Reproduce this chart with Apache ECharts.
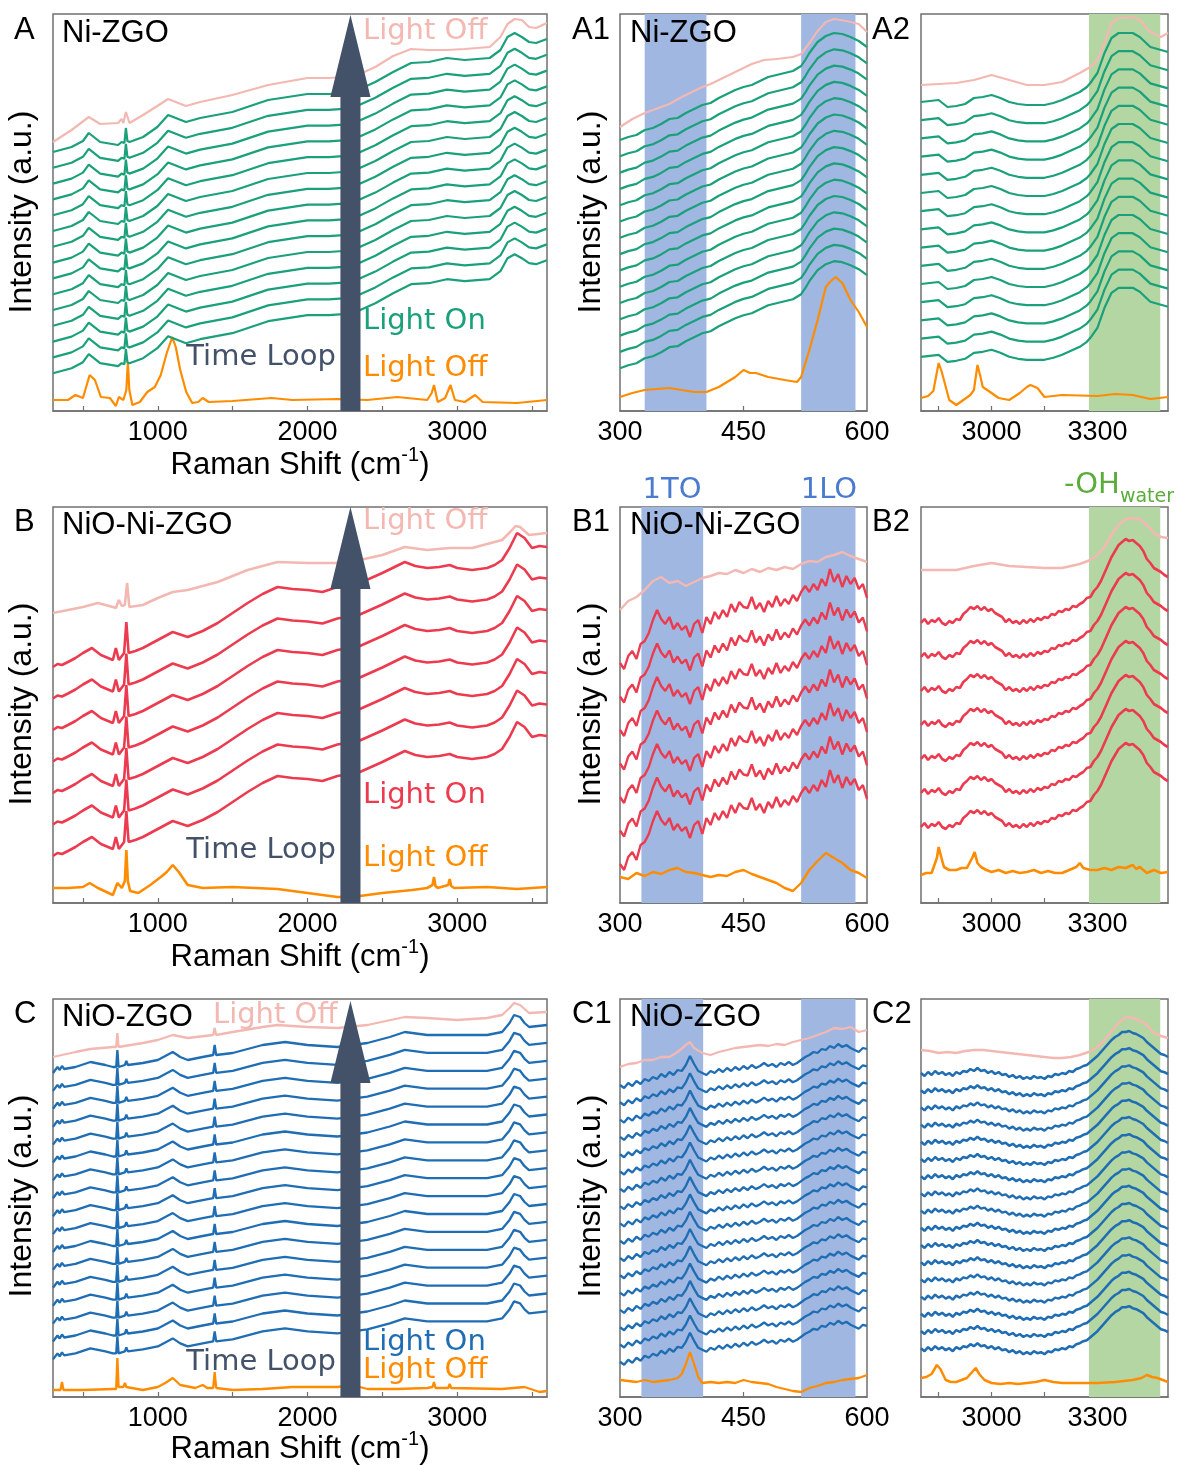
<!DOCTYPE html>
<html><head><meta charset="utf-8">
<script src="https://cdn.jsdelivr.net/npm/echarts@6/dist/echarts.min.js"></script>
<style>html,body{margin:0;padding:0;background:#fff}#c{width:1182px;height:1465px}</style>
</head><body><div id="c"></div>
<script>
// ---------- colours ----------
const GREEN = '#1aa07a', PINK = '#f3b8b2', ORANGE = '#ff8c00', RED = '#ec3b4f', BLUE = '#1f6db3';
const ARROW = '#435269', BAND_BLUE = '#9fb7e1', BAND_GREEN = '#b4d6a2';

// ---------- tick values ----------
const ticksWide = [500, 1000, 1500, 2000, 2500, 3000, 3500];
const labelsWide = [1000, 2000, 3000];
const ticksLow = [375, 450, 525];
const labelsLow = [300, 450, 600];
const ticksHigh = [2850, 3000, 3150, 3300, 3450];
const labelsHigh = [3000, 3300];

// ---------- Panel A : Ni-ZGO (full range) ----------
const pinkA = [[300,269],[424,281],[539,294],[615,287],[735,288],[758,292],[770,288],[787,299],[811,288],[902,296],[997,305],[1069,312],[1188,305],[1283,309],[1498,316],[1737,326],[2000,333],[2143,333],[2238,334],[2334,336],[2453,344],[2572,355],[2692,362],[2811,361],[2931,361],[3050,362],[3217,364],[3289,374],[3336,387],[3384,392],[3432,391],[3480,384],[3527,383],[3599,388]];
const greenA = [[300,259],[424,264],[500,270],[539,278],[615,269],[735,266],[758,269],[777,268],[787,283],[797,270],[811,269],[902,274],[997,284],[1069,296],[1188,289],[1283,293],[1498,299],[1737,311],[2000,317],[2143,317],[2238,318],[2334,321],[2453,329],[2572,339],[2692,348],[2811,349],[2931,353],[3050,351],[3217,353],[3289,361],[3336,374],[3384,378],[3432,374],[3480,369],[3527,368],[3599,372]];
const orangeA = [[300,11],[400,11],[450,16],[500,13],[545,36],[580,31],[620,14],[680,13],[720,5],[740,14],[770,11],[790,21],[800,49],[810,21],[830,6],[880,9],[930,19],[980,24],[1020,36],[1060,58],[1097,74],[1120,64],[1150,41],[1190,19],[1230,8],[1270,9],[1300,13],[1340,9],[1500,10],[1760,13],[1900,11],[2200,12],[2400,11],[2600,14],[2800,11],[2830,18],[2845,26],[2870,9],[2920,13],[2955,26],[2985,11],[3050,9],[3120,16],[3170,9],[3400,8],[3600,11]];
const offsetsA = [0,15.8,31.6,47.4,63.2,79,94.8,110.6,126.4,142.2,158,173.8,189.6,205.4,221.2];

// ---------- Panel A1 : Ni-ZGO 300-600 ----------
const pinkA1 = [[300,284],[315,292],[330,298],[340,301],[350,304],[360,307],[375,314],[390,320],[400,324],[410,327],[425,333],[440,339],[450,343],[460,347],[475,351],[490,352],[500,353],[510,354],[520,357],[530,368],[540,380],[550,389],[560,392],[575,390],[590,387],[600,379]];
const greenA1 = [[300,271],[310,274],[320,276],[330,281],[340,283],[350,287],[360,292],[370,293],[380,298],[390,302],[400,306],[410,308],[420,313],[430,317],[440,321],[450,324],[460,326],[470,330],[480,334],[490,336],[500,338],[510,340],[520,345],[525,351],[530,358],[540,369],[550,375],[560,378],[570,377],[580,374],[590,370],[600,364]];
const orangeA1 = [[300,14],[315,18],[330,21],[345,22],[360,23],[375,21],[390,19],[405,19],[420,24],[430,29],[440,34],[450,41],[458,38],[465,38],[480,34],[500,31],[515,29],[520,34],[530,61],[540,91],[550,124],[555,129],[562,134],[570,128],[580,111],[590,99],[600,84]];
const offsetsA1 = [0,16.3,32.6,48.9,65.2,81.5,97.8,114.1,130.4,146.7,163,179.3,195.6,211.9,228.2];

// ---------- Panel A2 : Ni-ZGO 2800-3500 ----------
const pinkA2 = [[2800,326],[2850,327],[2900,328],[2950,331],[3000,336],[3050,331],[3100,326],[3150,326],[3200,329],[3250,338],[3280,344],[3300,351],[3320,368],[3340,388],[3360,393],[3400,394],[3420,391],[3450,379],[3480,374],[3500,378]];
const greenA2 = [[2800,309],[2825,310],[2850,311],[2875,304],[2900,305],[2925,307],[2950,313],[2975,314],[3000,316],[3025,313],[3050,309],[3075,307],[3100,306],[3125,306],[3150,306],[3175,308],[3200,311],[3225,315],[3250,319],[3270,324],[3280,328],[3300,338],[3320,358],[3340,373],[3360,378],[3400,378],[3420,374],[3450,364],[3480,361],[3500,359]];
const orangeA2 = [[2800,13],[2820,15],[2835,20],[2850,48],[2858,40],[2865,31],[2880,11],[2900,6],[2920,11],[2940,16],[2950,21],[2960,46],[2968,35],[2975,24],[3000,18],[3020,13],[3050,11],[3080,18],[3100,24],[3110,26],[3130,23],[3150,14],[3200,16],[3300,15],[3350,17],[3400,16],[3450,12],[3500,14]];
const offsetsA2 = [0,18.2,36.4,54.6,72.8,91,109.2,127.4,145.6,163.8,182,200.2,218.4,236.6,254.8];

// ---------- Panel B : NiO-Ni-ZGO (full range) ----------
const pinkB = [[300,290],[400,293],[500,296],[600,300],[700,296],[720,295],[740,303],[760,297],[780,298],[795,320],[810,296],[900,298],[1000,305],[1100,311],[1200,313],[1400,321],[1600,333],[1800,341],[2000,340],[2200,340],[2350,343],[2500,348],[2650,356],[2800,353],[2950,355],[3100,355],[3300,363],[3360,372],[3390,377],[3420,376],[3450,372],[3480,368],[3600,370]];
const redB = [[300,236],[330,239],[360,238],[400,241],[450,245],[500,250],[560,255],[620,248],[700,243],[720,255],[740,243],[775,250],[790,281],[805,250],[850,252],[900,255],[1000,263],[1100,271],[1200,266],[1300,272],[1400,280],[1500,290],[1600,300],[1700,309],[1800,316],[1900,314],[2000,313],[2100,311],[2200,316],[2350,320],[2500,330],[2650,341],[2720,337],[2800,335],[2880,336],[2950,338],[3000,335],[3100,333],[3200,335],[3250,338],[3300,343],[3350,355],[3400,370],[3450,365],[3500,355],[3550,357],[3600,356]];
const orangeB = [[300,15],[400,15],[500,16],[545,20],[600,15],[700,8],[730,20],[760,15],[780,22],[790,53],[800,22],[815,12],[870,10],[950,18],[1020,26],[1060,31],[1100,38],[1140,31],[1200,18],[1300,15],[1500,16],[1800,14],[2000,10],[2200,6],[2300,6],[2500,10],[2700,13],[2800,15],[2835,18],[2845,26],[2855,17],[2870,15],[2940,18],[2950,24],[2960,17],[2980,15],[3200,16],[3400,14],[3600,16]];
const offsetsB = [0,31.5,63,94.5,126,157.5,189];

// ---------- Panel B1 : NiO-Ni-ZGO 300-600 ----------
const pinkB1 = [[300,293],[310,302],[320,306],[330,313],[340,322],[350,326],[360,320],[370,322],[380,317],[390,321],[400,325],[410,327],[420,330],[430,329],[440,333],[450,330],[460,334],[470,331],[480,335],[490,333],[500,336],[510,334],[520,339],[530,342],[540,341],[550,346],[560,348],[570,351],[580,347],[590,344],[600,341]];
const redB1 = [[300,240],[305,234],[310,247],[315,252],[320,244],[325,259],[330,262],[335,270],[340,283],[345,293],[350,284],[355,279],[360,286],[365,274],[370,280],[375,273],[380,277],[385,266],[390,279],[395,283],[400,270],[405,286],[410,279],[415,291],[420,284],[425,293],[430,286],[435,299],[440,291],[445,301],[450,296],[455,295],[460,306],[465,294],[470,300],[475,291],[480,302],[485,296],[490,307],[495,297],[500,304],[505,299],[510,308],[515,302],[520,311],[525,317],[530,311],[535,319],[540,313],[545,324],[550,317],[555,334],[560,321],[565,329],[570,316],[575,327],[580,319],[585,325],[590,314],[595,319],[600,305]];
const orangeB1 = [[300,26],[310,24],[320,30],[330,27],[340,31],[350,29],[360,33],[370,35],[380,31],[390,30],[400,28],[410,26],[420,28],[430,27],[440,31],[450,33],[460,29],[470,26],[480,23],[490,20],[500,15],[510,12],[520,20],[530,33],[540,42],[550,50],[560,45],[570,40],[580,33],[590,30],[600,25]];
const offsetsB1 = [0,33.5,67,100.5,134,167.5,201];

// ---------- Panel B2 : NiO-Ni-ZGO 2800-3500 ----------
const pinkB2 = [[2800,333],[2850,333],[2900,333],[2950,337],[3000,340],[3050,337],[3100,336],[3150,335],[3200,335],[3250,339],[3280,343],[3300,348],[3320,356],[3340,368],[3360,378],[3380,384],[3400,385],[3420,384],[3440,378],[3460,370],[3480,366],[3500,365]];
const redB2 = [[2800,280],[2810,284],[2820,279],[2830,283],[2840,281],[2850,285],[2860,280],[2870,278],[2880,282],[2890,280],[2900,284],[2910,283],[2920,289],[2930,292],[2940,296],[2950,294],[2960,297],[2970,293],[2980,296],[2990,292],[3000,294],[3010,290],[3020,288],[3030,286],[3040,281],[3050,284],[3060,280],[3070,282],[3080,279],[3090,283],[3100,280],[3110,284],[3120,281],[3130,285],[3140,283],[3150,286],[3160,285],[3170,289],[3180,288],[3190,292],[3200,291],[3210,294],[3220,293],[3230,297],[3240,296],[3250,299],[3260,301],[3270,305],[3280,306],[3290,312],[3300,316],[3310,322],[3320,330],[3330,338],[3340,346],[3350,352],[3360,358],[3370,361],[3380,364],[3390,362],[3400,363],[3410,360],[3420,357],[3430,352],[3440,344],[3450,340],[3460,335],[3470,333],[3480,331],[3490,328],[3500,326]];
const orangeB2 = [[2800,28],[2815,30],[2830,30],[2845,45],[2850,56],[2858,45],[2865,36],[2880,33],[2900,33],[2915,35],[2930,35],[2945,45],[2952,51],[2960,40],[2970,36],[2985,33],[3000,31],[3020,33],[3040,30],[3060,32],[3080,30],[3100,31],[3120,33],[3140,30],[3160,32],[3180,30],[3200,30],[3220,33],[3240,36],[3250,40],[3260,35],[3280,33],[3300,33],[3320,35],[3340,33],[3360,36],[3380,35],[3400,38],[3410,34],[3420,36],[3440,30],[3460,33],[3480,30],[3500,31]];
const offsetsB2 = [0,34,68,102,136,170,204];

// ---------- Panel C : NiO-ZGO (full range) ----------
const pinkC = [[300,340],[450,345],[550,348],[700,350],[722,350],[730,364],[738,350],[900,354],[1000,357],[1100,362],[1200,359],[1370,362],[1380,369],[1390,362],[1500,365],[1700,370],[1800,372],[2000,370],[2200,369],[2400,372],[2650,380],[2800,379],[3000,377],[3200,379],[3300,382],[3350,389],[3380,394],[3420,392],[3480,384],[3600,385]];
const blueC = [[300,324],[330,330],[345,327],[360,331],[375,328],[450,330],[550,335],[650,332],[700,330],[722,330],[730,347],[738,330],[780,332],[790,336],[800,332],[900,334],[1000,337],[1050,341],[1100,345],[1150,340],[1200,337],[1300,340],[1370,342],[1380,352],[1390,342],[1500,344],[1600,348],[1700,352],[1850,355],[2000,352],[2200,350],[2400,354],[2550,360],[2650,365],[2800,362],[3000,362],[3200,362],[3300,365],[3350,374],[3380,382],[3420,380],[3450,374],[3480,370],[3600,372]];
const orangeC = [[300,7],[350,7],[360,15],[370,7],[500,7],[700,8],[722,8],[730,39],[738,10],[770,10],[780,14],[790,10],[900,7],[1000,10],[1050,14],[1100,19],[1150,12],[1250,9],[1300,12],[1330,9],[1370,9],[1380,25],[1390,9],[1500,7],[1700,8],[1900,10],[2200,10],[2300,12],[2400,8],[2600,8],[2800,9],[2835,10],[2845,15],[2855,9],[2940,9],[2950,13],[2960,9],[3300,8],[3450,10],[3550,5],[3600,6]];
const offsetsC = [0,17.9,35.8,53.7,71.6,89.5,107.4,125.3,143.2,161.1,179,196.9,214.8,232.7,250.6,268.5,286.4];

// ---------- Panel C1 : NiO-ZGO 300-600 ----------
const pinkC1 = [[300,330],[310,333],[320,334],[330,337],[340,337],[350,340],[360,340],[370,345],[380,352],[385,355],[390,349],[400,344],[410,342],[420,345],[430,347],[440,349],[450,350],[460,351],[470,352],[480,351],[490,353],[500,352],[510,355],[520,357],[530,359],[540,362],[550,365],[560,369],[570,368],[580,370],[590,365],[600,367]];
const blueC1 = [[300,312],[305,309],[310,314],[315,311],[320,316],[325,313],[330,318],[335,316],[340,320],[345,318],[350,323],[355,320],[360,325],[365,322],[370,327],[375,326],[380,332],[385,341],[390,333],[395,326],[400,324],[405,322],[410,326],[415,324],[420,328],[425,325],[430,329],[435,326],[440,330],[445,327],[450,331],[455,328],[460,332],[465,329],[470,331],[475,334],[480,331],[485,333],[490,330],[495,334],[500,332],[505,335],[510,332],[515,334],[520,337],[525,340],[530,342],[535,345],[540,344],[545,348],[550,347],[555,351],[560,349],[565,353],[570,350],[575,352],[580,349],[585,347],[590,345],[595,349],[600,348]];
const orangeC1 = [[300,17],[310,16],[320,15],[330,17],[340,15],[350,16],[360,17],[370,19],[375,23],[380,33],[385,45],[390,33],[395,20],[400,14],[410,15],[420,14],[430,15],[440,14],[450,17],[460,15],[470,14],[480,13],[490,10],[500,8],[505,7],[510,6],[520,5],[530,9],[540,11],[550,14],[560,15],[570,17],[580,18],[590,19],[600,22]];
const offsetsC1 = [0,17.3,34.6,51.9,69.2,86.5,103.8,121.1,138.4,155.7,173,190.3,207.6,224.9,242.2,259.5,276.8];

// ---------- Panel C2 : NiO-ZGO 2800-3500 ----------
const pinkC2 = [[2800,347],[2825,346],[2850,344],[2875,345],[2900,344],[2925,346],[2950,347],[2975,347],[3000,346],[3025,345],[3050,344],[3075,343],[3100,342],[3125,341],[3150,340],[3175,339],[3200,339],[3225,340],[3250,342],[3275,345],[3300,350],[3320,357],[3340,366],[3360,374],[3380,380],[3400,379],[3415,377],[3430,375],[3445,370],[3460,364],[3480,361],[3500,359]];
const blueC2 = [[2800,324],[2810,321],[2820,325],[2830,322],[2840,326],[2850,323],[2860,325],[2870,322],[2880,324],[2890,321],[2900,325],[2910,323],[2920,326],[2930,325],[2940,328],[2950,326],[2960,329],[2970,326],[2980,327],[2990,324],[3000,326],[3010,323],[3020,325],[3030,322],[3040,323],[3050,320],[3060,322],[3070,319],[3080,321],[3090,318],[3100,320],[3110,318],[3120,321],[3130,319],[3140,320],[3150,318],[3160,321],[3170,320],[3180,323],[3190,322],[3200,324],[3210,323],[3220,326],[3230,325],[3240,328],[3250,329],[3260,331],[3270,332],[3280,335],[3290,338],[3300,341],[3310,345],[3320,349],[3330,353],[3340,357],[3350,360],[3360,362],[3370,365],[3380,365],[3390,366],[3400,364],[3410,363],[3420,361],[3430,359],[3440,355],[3450,352],[3460,349],[3470,346],[3480,343],[3490,342],[3500,340]];
const orangeC2 = [[2800,19],[2815,20],[2830,23],[2845,32],[2855,28],[2870,17],[2885,15],[2900,15],[2915,17],[2930,19],[2945,25],[2955,29],[2965,23],[2980,17],[3000,14],[3025,13],[3050,14],[3075,13],[3100,14],[3125,15],[3150,17],[3175,15],[3200,14],[3250,14],[3300,14],[3350,15],[3400,17],[3425,19],[3440,22],[3455,20],[3470,19],[3485,17],[3500,15]];
const offsetsC2 = [0,17.2,34.4,51.6,68.8,86,103.2,120.4,137.6,154.8,172,189.2,206.4,223.6,240.8,258,275.2];

// ---------- highlight bands / arrow (annotation geometry, data units) ----------
const bandsA1 = [[330,405],[520,586]];
const bandsB1 = [[326,401],[520,586]];
const bandsC1 = [[326,401],[520,586]];
const bandOH = [[3276,3478]];
const arrowShape = [[2220,0],[2354,0],[2354,314],[2421,314],[2287,396],[2153,314],[2220,314]];

// ---------- layout ----------
const colL = [53, 620, 921], colW = [494, 247, 247];
const rowT = [14, 507, 999], rowH = [397, 396, 398];
const AX = 'Liberation Sans, Arial, sans-serif';
const ANN = 'DejaVu Sans, sans-serif';

const panels = [
  {r:0,c:0,min:300,max:3600,t:ticksWide,l:labelsWide,pink:pinkA,mid:greenA,orange:orangeA,off:offsetsA,col:GREEN,arrow:true,w:2.2},
  {r:0,c:1,min:300,max:600,t:ticksLow,l:labelsLow,pink:pinkA1,mid:greenA1,orange:orangeA1,off:offsetsA1,col:GREEN,bands:bandsA1,bandCol:BAND_BLUE,w:2.2},
  {r:0,c:2,min:2800,max:3500,t:ticksHigh,l:labelsHigh,pink:pinkA2,mid:greenA2,orange:orangeA2,off:offsetsA2,col:GREEN,bands:bandOH,bandCol:BAND_GREEN,w:2.2},
  {r:1,c:0,min:300,max:3600,t:ticksWide,l:labelsWide,pink:pinkB,mid:redB,orange:orangeB,off:offsetsB,col:RED,arrow:true,w:2.6},
  {r:1,c:1,min:300,max:600,t:ticksLow,l:labelsLow,pink:pinkB1,mid:redB1,orange:orangeB1,off:offsetsB1,col:RED,bands:bandsB1,bandCol:BAND_BLUE,w:2.4},
  {r:1,c:2,min:2800,max:3500,t:ticksHigh,l:labelsHigh,pink:pinkB2,mid:redB2,orange:orangeB2,off:offsetsB2,col:RED,bands:bandOH,bandCol:BAND_GREEN,w:2.6},
  {r:2,c:0,min:300,max:3600,t:ticksWide,l:labelsWide,pink:pinkC,mid:blueC,orange:orangeC,off:offsetsC,col:BLUE,arrow:true,w:2.3},
  {r:2,c:1,min:300,max:600,t:ticksLow,l:labelsLow,pink:pinkC1,mid:blueC1,orange:orangeC1,off:offsetsC1,col:BLUE,bands:bandsC1,bandCol:BAND_BLUE,w:2.3},
  {r:2,c:2,min:2800,max:3500,t:ticksHigh,l:labelsHigh,pink:pinkC2,mid:blueC2,orange:orangeC2,off:offsetsC2,col:BLUE,bands:bandOH,bandCol:BAND_GREEN,w:2.5}
];

const grid = [], xAxis = [], yAxis = [], series = [];
panels.forEach((p, i) => {
  grid.push({left: colL[p.c], top: rowT[p.r], width: colW[p.c], height: rowH[p.r], show: true,
    borderColor: '#707070', borderWidth: 1.5, backgroundColor: 'transparent'});
  xAxis.push({type: 'value', gridIndex: i, min: p.min, max: p.max,
    axisLine: {show: true, onZero: false, lineStyle: {color: '#707070', width: 1.5}},
    axisTick: {show: true, inside: true, length: 5, customValues: p.t, lineStyle: {color: '#707070', width: 1.2}},
    axisLabel: {customValues: p.l, fontSize: 27, color: '#000', margin: 8, fontFamily: AX, formatter: v => String(v)},
    splitLine: {show: false}});
  yAxis.push({type: 'value', gridIndex: i, min: 0, max: rowH[p.r], show: false});
  const base = {type: 'line', xAxisIndex: i, yAxisIndex: i, showSymbol: false, symbol: 'none', silent: true, animation: false, z: 3};
  if (p.bands) {
    series.push({type: 'line', xAxisIndex: i, yAxisIndex: i, data: [], silent: true, z: 1, animation: false,
      markArea: {silent: true, itemStyle: {color: p.bandCol, opacity: 1}, data: p.bands.map(b => [{xAxis: b[0]}, {xAxis: b[1]}])}});
  }
  series.push(Object.assign({}, base, {data: p.orange, lineStyle: {color: ORANGE, width: p.w}}));
  p.off.slice().reverse().forEach(o => {
    series.push(Object.assign({}, base, {data: p.mid.map(d => [d[0], d[1] - o]), lineStyle: {color: p.col, width: p.w}}));
  });
  series.push(Object.assign({}, base, {data: p.pink, lineStyle: {color: PINK, width: p.w}}));
  if (p.arrow) {
    series.push({type: 'custom', xAxisIndex: i, yAxisIndex: i, z: 10, silent: true, animation: false,
      data: [[arrowShape[0][0], 0]],
      renderItem: (params, api) => ({type: 'polygon', shape: {points: arrowShape.map(pt => api.coord(pt))}, style: {fill: ARROW}})});
  }
});

// ---------- text annotations ----------
const G = [];
function txt(x, y, text, size, color, align, font) {
  G.push({type: 'text', z: 100, x: x, y: y, style: {text: text, fontSize: size, fontFamily: font || AX, fill: color,
    align: align || 'left', verticalAlign: 'middle', textAlign: align || 'left', textVerticalAlign: 'middle'}});
}
function ytitle(x, y) {
  G.push({type: 'text', z: 100, x: x, y: y, rotation: Math.PI / 2, style: {text: 'Intensity (a.u.)', fontSize: 32, fontFamily: AX, fill: '#000',
    align: 'center', verticalAlign: 'middle', textAlign: 'center', textVerticalAlign: 'middle'}});
}
function xtitle(x, y) {
  G.push({type: 'text', z: 100, x: x, y: y, style: {text: '{a|Raman Shift (cm}{s|-1}{a|)}', fill: '#000', align: 'center', verticalAlign: 'middle',
    textAlign: 'center', textVerticalAlign: 'middle',
    rich: {a: {fontSize: 31, fontFamily: AX, fill: '#000', lineHeight: 35, verticalAlign: 'bottom'},
           s: {fontSize: 20, fontFamily: AX, fill: '#000', lineHeight: 35, verticalAlign: 'top'}}}});
}
const rowsTxt = [
  {letter: 'A', name: 'Ni-ZGO', y0: 0, col: GREEN, pinkX: 363, pinkY: 31, onY: 321, offY: 368, loopY: 357},
  {letter: 'B', name: 'NiO-Ni-ZGO', y0: 492, col: RED, pinkX: 363, pinkY: 521, onY: 795, offY: 858, loopY: 850},
  {letter: 'C', name: 'NiO-ZGO', y0: 984, col: BLUE, pinkX: 213, pinkY: 1015, onY: 1342, offY: 1370, loopY: 1362}
];
rowsTxt.forEach(r => {
  txt(14, r.y0 + 30, r.letter, 31, '#000');
  txt(62, r.y0 + 33, r.name, 31, '#000');
  txt(572, r.y0 + 30, r.letter + '1', 31, '#000');
  txt(630, r.y0 + 33, r.name, 31, '#000');
  txt(872, r.y0 + 30, r.letter + '2', 31, '#000');
  txt(r.pinkX, r.pinkY, 'Light Off', 29, PINK, 'left', ANN);
  txt(363, r.onY, 'Light On', 29, r.col, 'left', ANN);
  txt(363, r.offY, 'Light Off', 29, ORANGE, 'left', ANN);
  txt(336, r.loopY, 'Time Loop', 29, ARROW, 'right', ANN);
  ytitle(22, r.y0 + 212);
  ytitle(591, r.y0 + 212);
  xtitle(300, r.y0 + 463);
});
txt(672, 490, '1TO', 29, '#4a7bd0', 'center', ANN);
txt(829, 490, '1LO', 29, '#4a7bd0', 'center', ANN);
G.push({type: 'text', z: 100, x: 1064, y: 489, style: {text: '{a|-OH}{s|water}', align: 'left', verticalAlign: 'middle', textAlign: 'left', textVerticalAlign: 'middle',
  rich: {a: {fontSize: 29, fontFamily: ANN, fill: '#5aad3a', lineHeight: 36, verticalAlign: 'top'},
         s: {fontSize: 19, fontFamily: ANN, fill: '#5aad3a', lineHeight: 36, verticalAlign: 'bottom'}}}});

const chart = echarts.init(document.getElementById('c'), null, {renderer: 'canvas'});
chart.setOption({backgroundColor: '#fff', animation: false, grid: grid, xAxis: xAxis, yAxis: yAxis, series: series, graphic: G});
</script></body></html>
